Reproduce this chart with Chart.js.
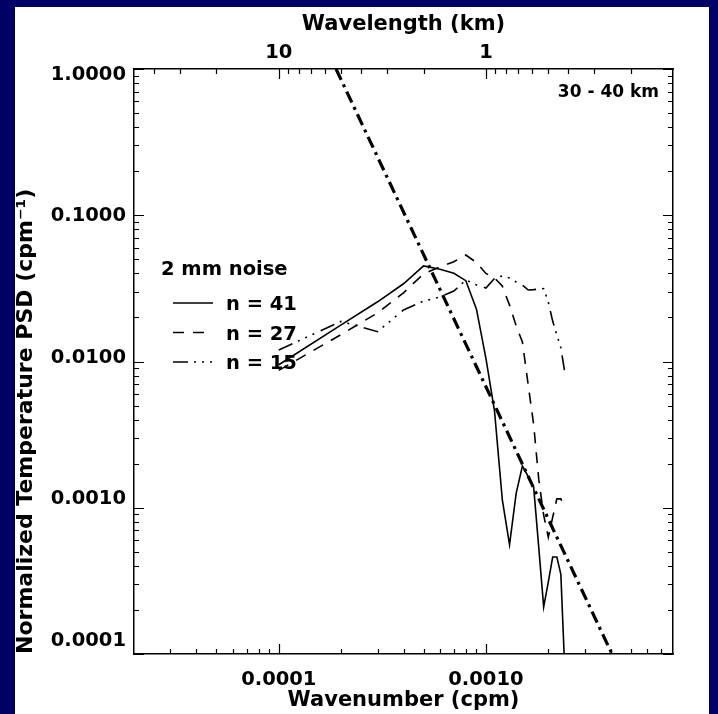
<!DOCTYPE html>
<html><head><meta charset="utf-8">
<script src="https://cdn.jsdelivr.net/npm/chart.js@4/dist/chart.umd.min.js"></script>
<style>
html,body{margin:0;padding:0;background:#000066;overflow:hidden;}
#wrap{position:absolute;left:0;top:0;width:718px;height:714px;}
</style></head><body>
<div id="wrap"><canvas id="c" width="718" height="714"></canvas></div>
<script>
// ---- data ----
const wavenumber = [0.0001,0.0002,0.0003,0.0004,0.0005,0.0006,0.0007,0.0008,0.0009,0.0010,
  0.0011,0.0012,0.0013,0.0014,0.0015,0.0016,0.0017,0.0018,0.0019,0.0020,0.0021,0.0022,0.0023,0.0024];
const psdN41 = [0.0095,0.0178,0.0256,0.034,0.045,0.0427,0.0401,0.0357,0.0228,0.0105,
  0.0046,0.00113,0.00056,0.00126,0.00193,0.00163,0.00138,0.00053,0.00021,0.00031,0.00046,0.00046,0.00035,0.00008];
const psdN27 = [0.0087,0.0153,0.0215,0.0295,0.0397,0.0443,0.0481,0.0535,0.0475,0.040,
  0.0372,0.0328,0.0243,0.0175,0.0136,0.0069,0.0037,0.00155,0.00089,0.00063,0.00086,0.00115,0.00115,0.00098];
const psdN15 = [0.0120,0.0188,0.0160,0.0225,0.0259,0.0276,0.0303,0.0361,0.0334,0.0318,
  0.0370,0.0385,0.0372,0.0350,0.0333,0.0308,0.0310,0.0313,0.0315,0.0255,0.0189,0.0152,0.0124,0.0085];
const refWavenumber = [0.000189, 0.00406];
const refPsd = [1.0, 0.0001];

const seriesLabels = ['n = 41', 'n = 27', 'n = 15'];
const legendTitle = '2 mm noise';
const altitudeLabel = '30 - 40 km';

const yMajorTicks = [1, 0.1, 0.01, 0.001, 0.0001];
const yTickLabels = ['1.0000', '0.1000', '0.0100', '0.0010', '0.0001'];
const xMajorTicks = [0.0001, 0.001];
const xTickLabels = ['0.0001', '0.0010'];
const wavelengthMajorKm = [10, 1];
const wavelengthLabels = ['10', '1'];
const wavelengthMinorKm = [40, 30, 20, 9, 8, 7, 6, 5, 4, 3, 2, 0.9, 0.8, 0.7, 0.6, 0.5, 0.4, 0.3, 0.2];

const X_MIN = 0.00002, X_MAX = 0.008, Y_MIN = 0.0001, Y_MAX = 1.0;
// the printed y labels sit slightly inside the end ticks in the picture
const Y_LABEL_MIN = 0.0000809, Y_LABEL_MAX = 1.0935;

// ---- helpers ----
const FONT = 'DejaVu Sans';
const pts = (xs, ys) => xs.map((x, i) => ({x: x, y: ys[i]}));
function decadeMinors(lo, hi, maxv) {
  const out = [];
  for (let d = lo; d < hi; d *= 10) for (let m = 2; m <= 9; m++) { const v = m * d; if (v < maxv * 0.999) out.push(v); }
  return out;
}
const yMinor = decadeMinors(0.0001, 1, 1);
const xMinor = decadeMinors(0.00001, 0.01, X_MAX).filter(v => v > X_MIN * 1.001);
const kmToCpm = km => 1 / (km * 1000);
const pickLabel = (vals, labels, v) => { const i = vals.findIndex(t => Math.abs(t - v) / t < 1e-6); return i >= 0 ? labels[i] : ''; };

const frame = {
  id: 'frame',
  beforeDraw(chart) {
    const ctx = chart.ctx;
    ctx.save();
    ctx.fillStyle = '#000066';
    ctx.fillRect(0, 0, chart.width, chart.height);
    ctx.fillStyle = '#ffffff';
    ctx.fillRect(15, 7, 694, 707);
    ctx.restore();
  }
};

const inwardTicks = {
  id: 'inwardTicks',
  afterDraw(chart) {
    const ctx = chart.ctx, a = chart.chartArea;
    const sx = chart.scales.x, sy = chart.scales.y;
    ctx.save();
    ctx.strokeStyle = '#000';
    ctx.lineWidth = 1.2;
    ctx.beginPath();
    const vt = (px, y0, dir, len) => { ctx.moveTo(px, y0); ctx.lineTo(px, y0 + dir * len); };
    const ht = (py, x0, dir, len) => { ctx.moveTo(x0, py); ctx.lineTo(x0 + dir * len, py); };
    xMajorTicks.forEach(v => vt(Math.round(sx.getPixelForValue(v)) + 0.5, a.bottom, -1, 10));
    xMinor.forEach(v => vt(Math.round(sx.getPixelForValue(v)) + 0.5, a.bottom, -1, 5));
    wavelengthMajorKm.forEach(km => vt(Math.round(sx.getPixelForValue(kmToCpm(km))) + 0.5, a.top, 1, 10));
    wavelengthMinorKm.forEach(km => vt(Math.round(sx.getPixelForValue(kmToCpm(km))) + 0.5, a.top, 1, 5));
    yMajorTicks.forEach(v => { const p = Math.round(sy.getPixelForValue(v)) + 0.5; ht(p, a.left, 1, 10); ht(p, a.right, -1, 10); });
    yMinor.forEach(v => { const p = Math.round(sy.getPixelForValue(v)) + 0.5; ht(p, a.left, 1, 5); ht(p, a.right, -1, 5); });
    ctx.stroke();
    ctx.restore();
  }
};

const annotations = {
  id: 'annotations',
  afterDraw(chart) {
    const ctx = chart.ctx;
    ctx.save();
    ctx.fillStyle = '#000';
    ctx.textBaseline = 'alphabetic';
    ctx.font = 'bold 19.5px "' + FONT + '"';
    ctx.textAlign = 'left';
    ctx.fillText(legendTitle, 161, 275);
    const rows = [310, 339.5, 369];
    const ds = chart.data.datasets;
    rows.forEach((by, i) => {
      ctx.save();
      ctx.strokeStyle = '#000';
      ctx.lineWidth = ds[i].borderWidth;
      ctx.setLineDash(ds[i].borderDash || []);
      ctx.beginPath();
      ctx.moveTo(173, by - 7); ctx.lineTo(213, by - 7);
      ctx.stroke();
      ctx.restore();
      ctx.fillText(seriesLabels[i], 226, by);
    });
    ctx.font = 'bold 17px "' + FONT + '"';
    ctx.textAlign = 'right';
    ctx.fillText(altitudeLabel, 659, 97);
    ctx.restore();
  }
};

const tickFont = {family: FONT, size: 19.5, weight: 'bold', lineHeight: 1};
const titleFont = {family: FONT, size: 21, weight: 'bold', lineHeight: 1};
const yTitleFont = {family: FONT, size: 22, weight: 'bold', lineHeight: 1};
const common = {borderColor: '#000', pointRadius: 0, fill: false, tension: 0, clip: 0, xAxisID: 'x', yAxisID: 'y'};

new Chart(document.getElementById('c'), {
  type: 'line',
  data: {
    datasets: [
      Object.assign({label: seriesLabels[0], data: pts(wavenumber, psdN41), borderWidth: 1.6, borderDash: []}, common),
      Object.assign({label: seriesLabels[1], data: pts(wavenumber, psdN27), borderWidth: 1.6, borderDash: [11, 9]}, common),
      Object.assign({label: seriesLabels[2], data: pts(wavenumber, psdN15), borderWidth: 1.6, borderDash: [15, 6, 2, 6, 2, 6, 2, 7]}, common),
      Object.assign({label: 'k^-3', data: pts(refWavenumber, refPsd), borderWidth: 3.2, borderDash: [12, 5, 3, 5]}, common)
    ]
  },
  options: {
    responsive: false,
    animation: false,
    events: [],
    devicePixelRatio: 1,
    layout: {padding: 0},
    plugins: {legend: {display: false}, tooltip: {enabled: false}, title: {display: false}},
    scales: {
      x: {
        type: 'logarithmic', position: 'bottom', min: X_MIN, max: X_MAX,
        afterBuildTicks: s => { s.ticks = xMajorTicks.map(v => ({value: v})); },
        afterFit: s => { s.height = 60; },
        ticks: {color: '#000', font: tickFont, padding: 16, maxRotation: 0, autoSkip: false,
          callback: v => pickLabel(xMajorTicks, xTickLabels, v)},
        grid: {display: false, drawTicks: false},
        border: {display: true, color: '#000', width: 1.5},
        title: {display: true, text: 'Wavenumber (cpm)', color: '#000', font: titleFont, padding: {top: 0, bottom: 3}}
      },
      x2: {
        type: 'logarithmic', position: 'top', min: X_MIN, max: X_MAX,
        afterBuildTicks: s => { s.ticks = wavelengthMajorKm.map(km => ({value: kmToCpm(km)})); },
        afterFit: s => { s.height = 69; },
        ticks: {color: '#000', font: tickFont, padding: 6, maxRotation: 0, autoSkip: false,
          callback: v => { const i = wavelengthMajorKm.findIndex(km => Math.abs(kmToCpm(km) - v) / v < 1e-6); return i >= 0 ? wavelengthLabels[i] : ''; }},
        grid: {display: false, drawTicks: false},
        border: {display: true, color: '#000', width: 1.5},
        title: {display: true, text: 'Wavelength (km)', color: '#000', font: titleFont, padding: {top: 14, bottom: 0}}
      },
      y: {
        type: 'logarithmic', position: 'left', min: Y_MIN, max: Y_MAX,
        afterBuildTicks: s => { s.ticks = yMajorTicks.map(v => ({value: v})); },
        afterFit: s => { s.width = 0; },
        ticks: {display: false},
        grid: {display: false, drawTicks: false},
        border: {display: false}
      },
      yLabels: {
        type: 'logarithmic', position: 'left', min: Y_LABEL_MIN, max: Y_LABEL_MAX,
        afterBuildTicks: s => { s.ticks = yMajorTicks.map(v => ({value: v})); },
        afterFit: s => { s.width = 134; },
        ticks: {color: '#000', font: tickFont, padding: 8, autoSkip: false,
          callback: v => pickLabel(yMajorTicks, yTickLabels, v)},
        grid: {display: false, drawTicks: false},
        border: {display: true, color: '#000', width: 1.5},
        title: {display: true, text: 'Normalized Temperature PSD (cpm\u207B\u00B9)', color: '#000', font: yTitleFont, align: 'start', padding: {top: 15, bottom: 0}}
      },
      y2: {
        type: 'logarithmic', position: 'right', min: Y_MIN, max: Y_MAX,
        afterBuildTicks: s => { s.ticks = yMajorTicks.map(v => ({value: v})); },
        afterFit: s => { s.width = 45; },
        ticks: {display: false},
        grid: {display: false, drawTicks: false},
        border: {display: true, color: '#000', width: 1.5}
      }
    }
  },
  plugins: [frame, inwardTicks, annotations]
});
</script>
</body></html>
